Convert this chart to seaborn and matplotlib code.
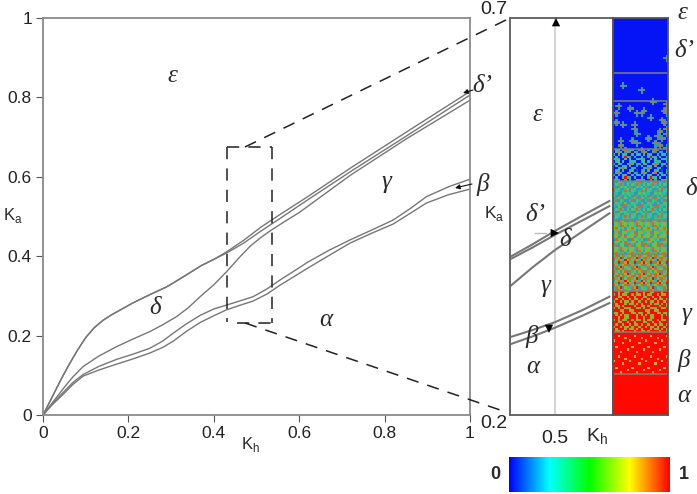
import numpy as np
import matplotlib
matplotlib.use("Agg")
import matplotlib.pyplot as plt
from matplotlib.colors import LinearSegmentedColormap, ListedColormap
from matplotlib.lines import Line2D
from matplotlib.patches import FancyArrowPatch
import seaborn as sns

# ---- phase boundaries, main diagram ----
x1 = [0, .02, .04, .06, .08, .10, .12, .14, .16, .18, .21, .25, .29, .33, .37, .40, .43, .47, .51, .555, .62, .72, .85, 1]
y1 = [0, .042, .085, .125, .162, .195, .22, .238, .252, .264, .282, .303, .323, .349, .376, .392, .411, .44, .473, .505, .55, .622, .712, .815]
y2 = [0, .042, .085, .125, .162, .195, .22, .238, .252, .264, .282, .303, .323, .349, .376, .392, .408, .433, .463, .495, .542, .613, .702, .806]
x3 = [0, .02, .05, .07, .094, .13, .172, .21, .25, .28, .313, .34, .368, .40, .43, .46, .485, .51, .535, .57, .60, .66, .72, .85, 1]
y3 = [0, .028, .07, .096, .122, .148, .172, .191, .21, .227, .248, .27, .298, .328, .361, .397, .425, .447, .466, .49, .51, .557, .604, .695, .793]
x4 = [0, .02, .05, .07, .094, .13, .172, .21, .25, .28, .305, .335, .368, .40, .43, .46, .492, .525, .555, .59, .62, .67, .719, .77, .82, .86, .898, .95, 1]
y4 = [0, .026, .06, .082, .102, .122, .14, .153, .168, .186, .206, .229, .251, .267, .277, .287, .298, .318, .34, .364, .385, .415, .441, .466, .491, .52, .55, .575, .594]
y5 = [0, .024, .055, .077, .098, .113, .128, .141, .156, .17, .186, .21, .233, .25, .265, .276, .287, .305, .327, .35, .37, .402, .433, .458, .481, .508, .534, .555, .569]

# ---- phase boundaries, zoomed diagram ----
zx = [.45, .475, .50, .53, .56]
z1 = [.399, .415, .432, .451, .4695]
z2 = [.396, .411, .427, .445, .463]
z3 = [.362, .386, .408, .431, .454]
z4 = [.298, .307, .317, .332, .349]
z5 = [.289, .299, .31, .325, .341]

main_ticks = [0, .2, .4, .6, .8, 1]
main_labels = ["0", "0.2", "0.4", "0.6", "0.8", "1"]

# ---- snapshot column: rows per band, top band first ----
band_rows = [24, 12, 21, 14, 17, 15, 16, 18, 18, 18]
band_tiles = [
    ["0"],
    ["0"],
    ["0"],
    ["03303003301", "03830038032", "30303300303", "03003933030", "33300303003", "03403003330", "30330038303", "03003303002", "00338300330"],
    ["3243823", "2438324", "3224342", "8342234", "2432383", "3322434", "4283232", "2342843", "3824322", "2433242", "3342283"],
    ["3824528", "4538453", "5432842", "5853425", "4352384", "3482543", "5538423", "4523585", "2845342", "3542483", "8324528"],
    ["5825835", "8359258", "2585395", "5392859", "8523582", "3859253", "5285835", "8352582", "2583859"],
    ["99599559995", "59595599595", "99559959959", "95995995955", "59959559599", "95999595595", "95595999959", "59599555995", "99955995599", "55995999559", "95959559995"],
    ["9999999", "9979999", "9999969", "7999999", "9999699", "9999999", "9799999", "9999997", "9996999"],
    ["9"],
]
dot_cols = [23, 4, 12, 17, 2, 7, 23, 23, 13, 12, 10, 22, 23, 1, 16, 21, 1, 4, 9, 22, 9, 10, 20, 23, 23, 15, 19, 21, 3, 8, 10, 18, 3, 20, 18, 23, 5, 12]
dot_rows = [17, 29, 31, 36, 38, 39, 37, 39, 40, 41, 41, 40, 41, 41, 43, 44, 45, 46, 46, 45, 48, 50, 49, 48, 50, 52, 51, 52, 53, 53, 54, 54, 55, 55, 57, 56, 57, 57]
rainbow = ["#0000ff", "#00ffff", "#00ff00", "#ffff00", "#ff0000"]
cell_colours = ["#0414f4", "#1050d0", "#2a9fb4", "#35b8a0", "#5fc060",
                "#8cb828", "#d8a828", "#f0b020", "#e86020", "#ff0800"]

plt.rcParams["font.family"] = ["Liberation Sans", "DejaVu Sans"]
plt.rcParams["mathtext.fontset"] = "custom"
plt.rcParams["mathtext.rm"] = "Liberation Sans"

W, H = 697, 494
fig = plt.figure(figsize=(W / 100, H / 100), dpi=100, facecolor="white")


def rect(l, t, r, b):
    return [l / W, 1 - b / H, (r - l) / W, (b - t) / H]


def px_text(x, y, s, size=18, style="italic", family="Liberation Serif", **kw):
    fig.text(x / W, 1 - y / H, s, fontsize=size, style=style, family=family,
             ha="center", va="center", color="#2a2a2a", **kw)


def px_line(xs, ys, **kw):
    fig.add_artist(Line2D([v / W for v in xs], [1 - v / H for v in ys], **kw))


def px_arrow(x0, y0, x1_, y1_, **kw):
    fig.add_artist(FancyArrowPatch((x0 / W, 1 - y0 / H), (x1_ / W, 1 - y1_ / H),
                                   transform=fig.transFigure, shrinkA=0, shrinkB=0, **kw))


GREY = "#777777"

# main diagram
ax = fig.add_axes(rect(43, 18, 470, 415))
for xs, ys in [(x1, y1), (x1, y2), (x3, y3), (x4, y4), (x4, y5)]:
    sns.lineplot(x=xs, y=ys, ax=ax, color=GREY, lw=1.0, estimator=None, sort=False)
ax.set_xlim(0, 1)
ax.set_ylim(0, 1)
ax.set_xticks(main_ticks, main_labels)
ax.set_yticks(main_ticks, main_labels)
ax.tick_params(labelsize=12.5, length=5, width=0.8, color="#555555", pad=3, labelcolor="#222222")
for s in ax.spines.values():
    s.set_color("#8a8a8a")
    s.set_linewidth(1.3)
ax.patch.set_alpha(0)

# zoomed diagram
az = fig.add_axes(rect(510, 18, 613, 415))
az.axvline(.5, color="#cccccc", lw=1.2)
for ys in (z1, z2, z3, z4, z5):
    sns.lineplot(x=zx, y=ys, ax=az, color=GREY, lw=1.5, estimator=None, sort=False)
az.set_xlim(.45, .564)
az.set_ylim(.2, .7)
az.set_xticks([.5], ["0.5"])
az.set_yticks([.2, .7], ["0.2", "0.7"])
az.tick_params(labelsize=14, length=0, labelcolor="#222222")
az.tick_params(axis="x", pad=11)
az.tick_params(axis="y", pad=2)
ylabs = az.get_yticklabels()
ylabs[0].set_va("top")
ylabs[1].set_va("bottom")
for s in az.spines.values():
    s.set_color("#666666")
    s.set_linewidth(1.4)

# snapshot column
cols = 24
grid = []
for n, tile in zip(band_rows, band_tiles):
    for r in range(n):
        row = tile[r % len(tile)]
        grid.append([int(row[c % len(row)]) for c in range(cols)])
grid = np.array(grid)
for c, r in zip(dot_cols, dot_rows):
    for dc, dr in [(1, 0), (-1, 0), (0, 1), (0, -1)]:
        if 0 <= c + dc < cols:
            grid[r + dr, c + dc] = 2
    grid[r, c] = 8
ap = fig.add_axes(rect(613, 18, 668, 415))
sns.heatmap(grid, ax=ap, cmap=ListedColormap(cell_colours), vmin=-.5, vmax=9.5, cbar=False,
            xticklabels=False, yticklabels=False)
edge = 0
for n in band_rows[:-1]:
    edge += n
    ap.axhline(edge, color="#808080", lw=1.1)
for s in ap.spines.values():
    s.set_visible(True)
    s.set_color("#555555")
    s.set_linewidth(1.3)

# colour ramp
ac = fig.add_axes(rect(509, 457, 670, 492))
sns.heatmap(np.linspace(0, 1, 256)[None, :], ax=ac,
            cmap=LinearSegmentedColormap.from_list("phase", rainbow), vmin=0, vmax=1, cbar=False,
            xticklabels=False, yticklabels=False)
px_text(495, 474, "0", size=13, style="normal", family="Liberation Sans", weight="bold")
px_text(684, 474, "1", size=13, style="normal", family="Liberation Sans", weight="bold")

# zoom window and connectors
dash = dict(color="#222222", lw=1.1, dashes=(8, 6))
px_line([227, 227], [147, 322], **dash)
px_line([272, 272], [147, 323], **dash)
px_line([227, 272], [147, 147], **dash)
px_line([237, 272], [323, 323], **dash)
px_line([245, 506], [147, 20], **dash)
px_line([245, 506], [323, 412], **dash)

# arrows
thin = dict(arrowstyle="-|>", color="#111111", lw=0.8, mutation_scale=7)
px_arrow(473, 90, 463, 93, **thin)
px_arrow(472, 184, 455, 188, **thin)
head = dict(arrowstyle="-|>", color="#000000", lw=0, mutation_scale=15)
for seg in [(556, 34, 556, 18), (544, 233, 559, 233), (549, 321, 549, 333)]:
    px_arrow(*seg, **head)
px_line([535, 546], [233, 233], color="#bbbbbb", lw=1)

# labels
for x, y, s in [(172, 76, "ε"), (155, 308, "δ"), (386, 182, "γ"), (326, 320, "α"),
                (482, 86, "δ’"), (483, 184, "β"),
                (537, 115, "ε"), (535, 215, "δ’"), (565, 240, "δ"), (545, 286, "γ"),
                (532, 336, "β"), (533, 367, "α"),
                (682, 13, "ε"), (684, 51, "δ’"), (691, 189, "δ"), (686, 314, "γ"),
                (684, 361, "β"), (684, 396, "α")]:
    px_text(x, y, s)
for x, y, s, size in [(13, 215, r"K$_{\mathrm{a}}$", 12), (494, 213, r"K$_{\mathrm{a}}$", 12.5),
                      (250, 444, r"K$_{\mathrm{h}}$", 12), (597, 437, r"K$_{\mathrm{h}}$", 14)]:
    px_text(x, y, s, size=size, style="normal", family="Liberation Sans")

fig.savefig("out.png", dpi=100, facecolor="white")
